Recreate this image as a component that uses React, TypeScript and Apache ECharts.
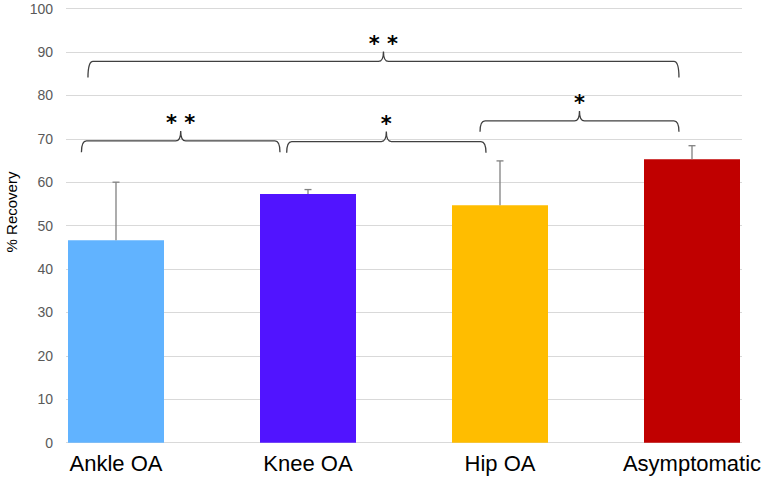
import React, { useEffect, useRef } from "react";
import * as echarts from "echarts";

const categories = ["Ankle OA", "Knee OA", "Hip OA", "Asymptomatic"];
const recovery = [46.6, 57.3, 54.7, 65.3];
const errorTop = [60.0, 58.3, 64.9, 68.4];
const barColors = ["#61B3FF", "#5114FF", "#FFBD00", "#C00000"];
const yTitle = "% Recovery";

// significance brackets (x in category units relative to the first category, level in % Recovery)
const bracketFrom = [-0.18, 0.889, 1.896, -0.146];
const bracketTo = [0.854, 1.927, 2.932, 2.932];
const bracketLevel = [69.5, 69.35, 74.1, 87.8];
const bracketTail = [2.6, 2.6, 2.5, 3.7];
const bracketLabels = ["* *", "*", "*", "* *"];

export default function App() {
  const ref = useRef<HTMLDivElement>(null);
  useEffect(() => {
    if (!ref.current) return;
    const chart = echarts.init(ref.current, null, { renderer: "svg" });
    const option: any = {
      animation: false,
      backgroundColor: "#ffffff",
      grid: [
        { left: 66, right: 23, top: 8.5, bottom: 35.3, outerBoundsMode: "none" },
        { left: 20, right: -23, top: 8.5, bottom: 35.3, outerBoundsMode: "none" },
      ],
      graphic: [
        {
          type: "text",
          x: 11,
          y: 212,
          rotation: Math.PI / 2,
          style: {
            text: yTitle,
            fill: "#000000",
            font: "15px 'Liberation Sans'",
            textAlign: "center",
            textVerticalAlign: "middle",
          },
        },
      ],
      xAxis: [
        { type: "value", gridIndex: 0, min: 0, max: 1, show: false },
        {
          type: "category",
          gridIndex: 1,
          data: categories,
          axisLine: { show: false },
          axisTick: { show: false },
          splitLine: { show: false },
          axisLabel: {
            color: "#000000",
            fontSize: 22,
            fontFamily: "Liberation Sans",
            margin: 10,
            interval: 0,
          },
        },
      ],
      yAxis: [
        {
          type: "value",
          gridIndex: 0,
          min: 0,
          max: 100,
          interval: 10,
          axisLine: { show: false },
          axisTick: { show: false },
          splitLine: { lineStyle: { color: "#d9d9d9", width: 1 } },
          axisLabel: {
            color: "#595959",
            fontSize: 14,
            fontFamily: "Liberation Sans",
            margin: 13,
          },
        },
        { type: "value", gridIndex: 1, min: 0, max: 100, show: false },
      ],
      series: [
        {
          type: "bar",
          xAxisIndex: 1,
          yAxisIndex: 1,
          barWidth: 96,
          data: recovery.map((v, i) => ({ value: v, itemStyle: { color: barColors[i] } })),
          z: 2,
        },
        {
          type: "custom",
          xAxisIndex: 1,
          yAxisIndex: 1,
          z: 3,
          data: categories.map((c, i) => [i, recovery[i], errorTop[i]]),
          renderItem: (params: any, api: any) => {
            const top = api.coord([api.value(0), api.value(2)]);
            const bot = api.coord([api.value(0), api.value(1)]);
            const st = { stroke: "#808080", lineWidth: 1.3 };
            return {
              type: "group",
              children: [
                { type: "line", shape: { x1: top[0], y1: bot[1], x2: top[0], y2: top[1] }, style: st },
                { type: "line", shape: { x1: top[0] - 3.5, y1: top[1], x2: top[0] + 3.5, y2: top[1] }, style: st },
              ],
            };
          },
        },
        {
          type: "custom",
          xAxisIndex: 1,
          yAxisIndex: 1,
          z: 4,
          data: bracketLevel.map((lv, i) => [0, lv, bracketFrom[i], bracketTo[i], bracketTail[i]]),
          renderItem: (params: any, api: any) => {
            const level = api.value(1);
            const from = api.value(2);
            const to = api.value(3);
            const tail = api.value(4);
            const base = api.coord([0, level]);
            const band = api.size([1, 0])[0];
            const xl = base[0] + from * band;
            const xr = base[0] + to * band;
            const y = base[1];
            const yEnd = api.coord([0, level - tail])[1];
            const xm = (xl + xr) / 2;
            const notch = 10;
            const r = 5;
            const d =
              `M${xl},${yEnd} Q${xl},${y} ${xl + r},${y} L${xm - r},${y} ` +
              `Q${xm},${y} ${xm},${y - notch} Q${xm},${y} ${xm + r},${y} ` +
              `L${xr - r},${y} Q${xr},${y} ${xr},${yEnd}`;
            return {
              type: "group",
              children: [
                {
                  type: "path",
                  shape: { pathData: d },
                  style: { fill: "none", stroke: "#404040", lineWidth: 1.3 },
                },
                {
                  type: "text",
                  x: xm,
                  y: y - 7,
                  style: {
                    text: bracketLabels[params.dataIndex],
                    fill: "#000000",
                    font: "bold 21px 'DejaVu Sans'",
                    textAlign: "center",
                    textVerticalAlign: "bottom",
                  },
                },
              ],
            };
          },
        },
      ],
    };
    chart.setOption(option);
    return () => chart.dispose();
  }, []);
  return (
    <div
      ref={ref}
      style={{ position: "fixed", left: 0, top: 0, width: 765, height: 478 }}
    />
  );
}
